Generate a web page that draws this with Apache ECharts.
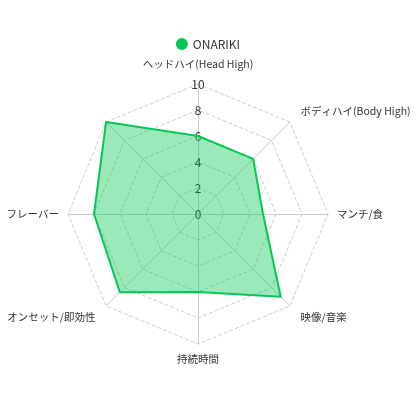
<!DOCTYPE html>
<html>
    <head>
        <meta charset="utf-8">
        <script src="https://cdn.jsdelivr.net/npm/echarts@6/dist/echarts.min.js"></script>
        <style>
            html, body { margin: 0; padding: 0; background: #fff; }
        </style>
    </head>
    <body>
        <div id="main" style="width: 416px;height:416px;"></div>
        <script type="text/javascript">
            // indicators, counter-clockwise from top
            var indicatorNames = ['ヘッドハイ(Head High)', '', 'フレーバー', 'オンセット/即効性', '持続時間', '映像/音楽', 'マンチ/食', 'ボディハイ(Body High)'];
            var seriesName = 'ONARIKI';
            var seriesValues = [6, 10, 8, 8.5, 6, 9, 5, 6];
            var maxValue = 10;

            // name distance: top/bottom, sides, diagonals
            var gaps = [7, 15, 9, 15, 7, 15, 9, 15];

            var indicator = indicatorNames.map(function (n, i) {
                var ind = { name: n, max: maxValue, min: 0, nameGap: gaps[i] };
                if (i === 0) ind.axisLabel = { show: true };
                return ind;
            });

            var myChart = echarts.init(document.getElementById('main'));
            var font = '"Noto Sans CJK JP", "Noto Sans", sans-serif';
            var option = {
                animation: false,
                textStyle: { fontFamily: font },
                legend: {
                    top: 33,
                    icon: 'circle',
                    itemWidth: 12,
                    itemHeight: 12,
                    textStyle: { color: '#333', fontSize: 12, fontFamily: font },
                    data: [seriesName]
                },
                radar: {
                    center: [198, 214],
                    radius: 130,
                    splitNumber: 5,
                    indicator: indicator,
                    axisName: { color: '#333', fontSize: 10.5, fontFamily: font, lineHeight: 16, padding: [0, 0, 5, 0] },
                    nameGap: 9,
                    axisLine: { lineStyle: { color: '#ccc' } },
                    splitLine: { lineStyle: { color: '#ccc', type: 'dashed' } },
                    splitArea: { show: false },
                    axisLabel: { show: false, color: '#333', fontSize: 12, margin: 0, align: 'center', verticalAlign: 'middle' }
                },
                series: [{
                    name: seriesName,
                    type: 'radar',
                    symbol: 'none',
                    itemStyle: { color: '#06c755' },
                    lineStyle: { color: '#06c755', width: 2 },
                    areaStyle: { color: '#06c755', opacity: 0.4 },
                    data: [{ value: seriesValues, name: seriesName }]
                }]
            };
            myChart.setOption(option);
        </script>
    </body>
</html>
